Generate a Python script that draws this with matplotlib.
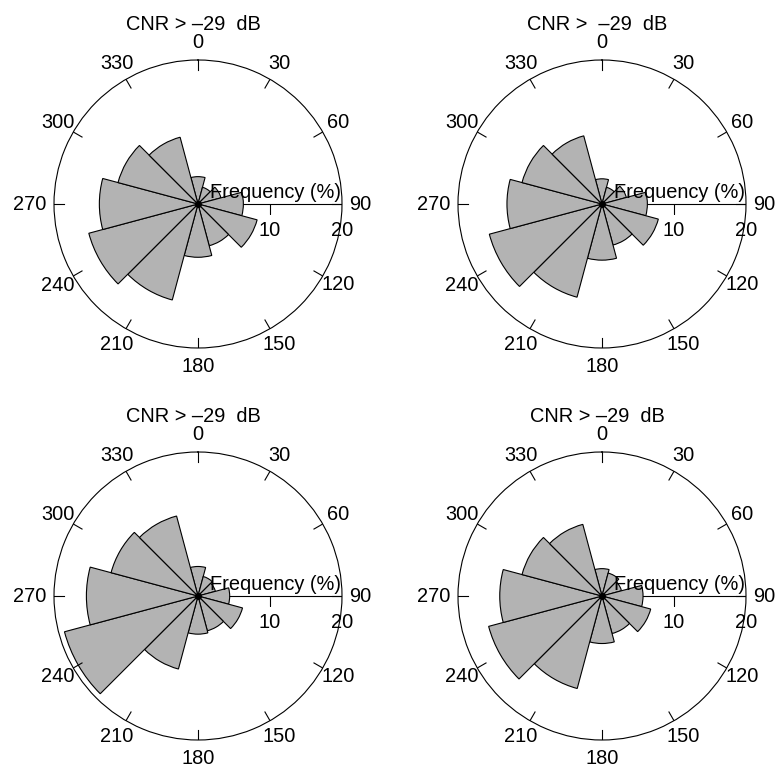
import numpy as np
import matplotlib
matplotlib.use("Agg")
from matplotlib import pyplot as plt

plt.rcParams['font.family'] = ['Liberation Sans', 'DejaVu Sans']

# sector centres (deg, clockwise from north)
directions = [0, 30, 60, 90, 120, 150, 180, 210, 240, 270, 300, 330]

# frequency (%) per sector, one list per panel
freq_a = [3.8, 2.4, 3.3, 6.3, 8.5, 6.0, 7.4, 13.8, 15.7, 13.7, 11.5, 9.6]
freq_b = [3.5, 2.4, 3.5, 6.3, 8.1, 5.9, 7.8, 13.4, 16.2, 13.2, 11.5, 9.8]
freq_c = [4.1, 2.8, 2.5, 4.4, 6.4, 5.0, 5.3, 10.5, 19.2, 15.5, 12.5, 11.5]
freq_d = [3.8, 3.3, 2.8, 5.7, 7.0, 5.4, 6.6, 13.3, 16.3, 14.2, 11.5, 10.3]

titles = ['CNR > \u201329  dB', 'CNR >  \u201329  dB',
          'CNR > \u201329  dB', 'CNR > \u201329  dB']
freq_ticks = [10, 20]

W, H = 775, 769
R = 144  # circle radius in px
centres = [(198, 204), (602, 204), (198, 596), (602, 596)]

fig = plt.figure(figsize=(W / 100, H / 100), dpi=100)
fs = 14.4

for (cx, cy), freq, title in zip(centres, [freq_a, freq_b, freq_c, freq_d], titles):
    ax = fig.add_axes([(cx - R) / W, (H - cy - R) / H, 2 * R / W, 2 * R / H],
                      projection='polar')
    ax.set_theta_zero_location('N')
    ax.set_theta_direction(-1)
    ax.set_ylim(0, 20)
    ax.grid(False)
    ax.set_xticks([])
    ax.set_yticks([])
    ax.spines['polar'].set_linewidth(0.8)

    th = np.radians(directions)
    ax.bar(th, freq, width=np.radians(30), bottom=0, align='center',
           color='#b3b3b3', edgecolor='black', linewidth=0.8, zorder=2)

    # direction ticks and labels
    for d in directions:
        t = np.radians(d)
        ax.plot([t, t], [18.6, 20], color='black', lw=0.8, zorder=3)
        rl = 23.4 if d == 270 else 22.5
        ax.text(t, rl, str(d), ha='center', va='center', fontsize=fs)

    # radial frequency axis towards east
    ax.plot([np.pi / 2, np.pi / 2], [0, 20], color='black', lw=0.8, zorder=1)
    for v in freq_ticks:
        ax.plot([np.pi / 2], [v], marker=3, color='black', ms=7, mew=0.8, zorder=3)
        ax.annotate(str(v), xy=(np.pi / 2, v), xytext=(0, -19),
                    textcoords='offset points', ha='center', va='center', fontsize=fs)
    ax.annotate('Frequency (%)', xy=(np.pi / 2, 10.7), xytext=(0, 8),
                textcoords='offset points', ha='center', va='center', fontsize=fs, zorder=4)
    ax.plot([0], [0], 'o', color='black', ms=4, zorder=4)

    fig.text((cx - 5) / W, 1 - (cy - R - 36) / H, title, ha='center', va='center', fontsize=fs)

fig.savefig('out.png', dpi=100)
